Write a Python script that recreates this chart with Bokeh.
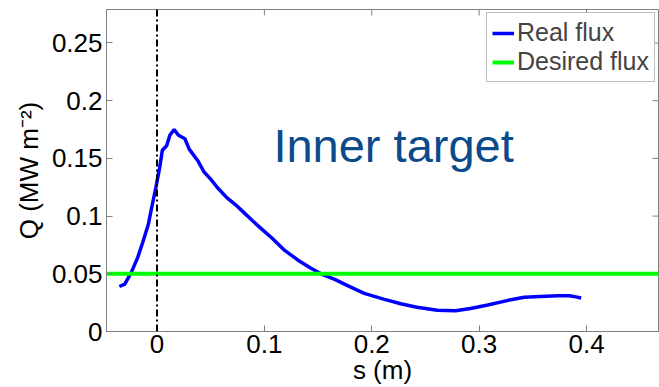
import math
from bokeh.plotting import figure
from bokeh.models import Range1d, FixedTicker, Span, Label
from bokeh.embed import file_html
from bokeh.resources import INLINE

# ---- data ----
s_m = [-0.035, -0.030, -0.024, -0.018, -0.013, -0.008, -0.005, -0.001, 0.0025, 0.005,
       0.009, 0.012, 0.016, 0.020, 0.026, 0.030, 0.038, 0.044, 0.050, 0.056,
       0.065, 0.073, 0.081, 0.089, 0.096, 0.107, 0.118, 0.131, 0.143, 0.155,
       0.166, 0.177, 0.186, 0.193, 0.211, 0.227, 0.242, 0.261, 0.278, 0.292,
       0.308, 0.327, 0.342, 0.357, 0.373, 0.384, 0.390, 0.395]
q_real = [0.039, 0.041, 0.051, 0.064, 0.078, 0.093, 0.107, 0.125, 0.142, 0.157,
          0.161, 0.170, 0.175, 0.170, 0.167, 0.158, 0.148, 0.138, 0.132, 0.125,
          0.116, 0.110, 0.103, 0.096, 0.090, 0.081, 0.071, 0.062, 0.055, 0.049,
          0.045, 0.040, 0.036, 0.033, 0.028, 0.024, 0.021, 0.0185, 0.018, 0.020,
          0.023, 0.027, 0.0296, 0.0304, 0.031, 0.031, 0.030, 0.029]
desired_q = 0.05
target_position = 0.0

x_lo, x_hi = -0.047, 0.467
y_lo, y_hi = 0.0, 0.279

x_ticks = [0, 0.1, 0.2, 0.3, 0.4]
x_tick_labels = ["0", "0.1", "0.2", "0.3", "0.4"]
y_ticks = [0, 0.05, 0.1, 0.15, 0.2, 0.25]
y_tick_labels = ["0", "0.05", "0.1", "0.15", "0.2", "0.25"]

FONT = "Liberation Sans"
AX = "#808080"

p = figure(width=659, height=387, output_backend="svg", toolbar_location=None,
           x_range=Range1d(x_lo, x_hi), y_range=Range1d(y_lo, y_hi),
           min_border_left=106, min_border_top=9, min_border_right=1, min_border_bottom=0)
p.grid.visible = False
p.outline_line_color = AX
p.background_fill_color = "white"
p.border_fill_color = "white"


def style_axis(ax, ticks, labels):
    ax.ticker = FixedTicker(ticks=ticks)
    ax.major_label_overrides = {t: l for t, l in zip(ticks, labels)}
    ax.axis_line_color = AX
    ax.major_tick_line_color = AX
    ax.major_tick_in = 6
    ax.major_tick_out = 0
    ax.minor_tick_line_color = None
    ax.major_label_text_font = FONT
    ax.major_label_text_color = "black"
    ax.major_label_text_font_size = "26px"
    ax.major_label_standoff = 4
    ax.axis_label_text_font = FONT
    ax.axis_label_text_font_size = "26px"
    ax.axis_label_text_font_style = "normal"
    ax.axis_label_text_color = "black"


style_axis(p.xaxis[0], x_ticks, x_tick_labels)
style_axis(p.yaxis[0], y_ticks, y_tick_labels)
p.xaxis[0].axis_label = "s (m)"
p.yaxis[0].axis_label = "Q (MW m\u207b\u00b2)"
p.xaxis[0].major_label_standoff = 3
p.xaxis[0].axis_label_standoff = -1
p.yaxis[0].axis_label_standoff = 5

# inward ticks mirrored on the top and right edges of the frame
p.ray(x=x_ticks, y=[y_hi] * len(x_ticks), length=6, length_units="screen",
      angle=-math.pi / 2, line_color=AX, line_width=1)
p.ray(x=[x_hi] * len(y_ticks), y=y_ticks, length=6, length_units="screen",
      angle=math.pi, line_color=AX, line_width=1)

p.add_layout(Span(location=target_position, dimension="height", line_color="black",
                  line_width=2, line_dash="7 3 2 3"))

p.line(s_m, q_real, line_color="#0000ff", line_width=3.5, legend_label="Real flux")
p.line([x_lo, x_hi], [desired_q, desired_q], line_color="#00ff00", line_width=4,
       legend_label="Desired flux")

p.add_layout(Label(x=0.1084, y=0.161, text="Inner target", text_font=FONT,
                   text_font_size="47px", text_color="#0b4a8b",
                   text_align="left", text_baseline="alphabetic"))

lg = p.legend[0]
lg.location = "top_right"
lg.margin = 3
lg.padding = 5
lg.spacing = 0
lg.label_standoff = 3
lg.glyph_width = 22
lg.glyph_height = 20
lg.label_text_font = FONT
lg.label_text_font_size = "25px"
lg.border_line_color = AX
lg.border_line_width = 1
lg.background_fill_color = "white"
lg.background_fill_alpha = 1.0

open("out.html", "w").write(file_html(p, INLINE))
